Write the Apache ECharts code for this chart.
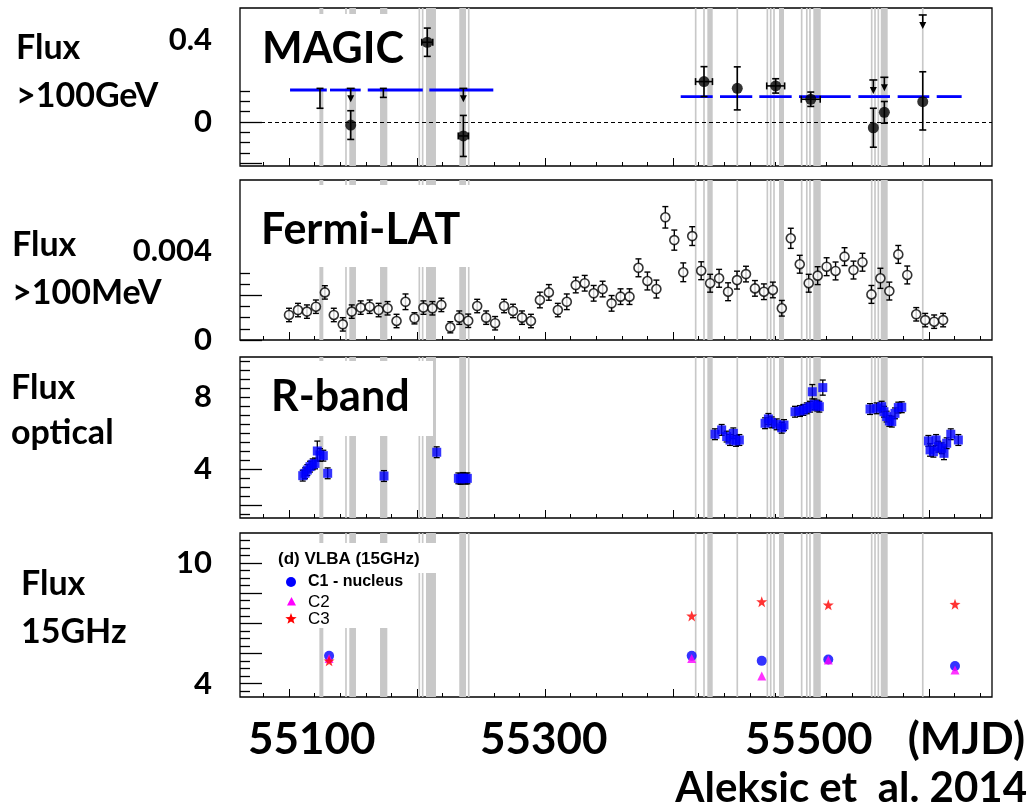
<!DOCTYPE html>
<html><head><meta charset="utf-8">
<script src="https://cdn.jsdelivr.net/npm/echarts@6/dist/echarts.min.js"></script>
<style>html,body{margin:0;padding:0;background:#fff}#c{width:1029px;height:807px}</style>
</head><body><div id="c"></div><script>
// ---------------- data ----------------
const xMajorTicks = [55100,55200,55300,55400,55500,55600];
const xMinorTicks = [55080,55100,55120,55140,55160,55180,55200,55220,55240,55260,55280,55300,55320,55340,55360,55380,55400,55420,55440,55460,55480,55500,55520,55540,55560,55580,55600,55620,55640];
const xTickLabels = ['55100','55300','55500'];

// grey MAGIC observation bands (MJD start, end) and thin lines (MJD)
const bandRanges = [[55123.7,55126.8],[55147.1,55152.3],[55171.1,55176.8],[55207,55214.8],[55233,55238.3],[55426.8,55431],[55482.8,55486.7],[55509.6,55515.4],[55562.3,55567.7]];
const bandLines = [55144.5,55201.8,55204.4,55240.4,55417.7,55424.2,55450.2,55473.7,55476.3,55478.9,55500.5,55504.5,55507,55555.2,55557.8,55560.4,55595.1];

// MAGIC >100 GeV
const magicMjd     = [55148.2,55208.0,55236.2,55424.2,55450.2,55480.2,55507.6,55556.5,55565.1,55595.1];
const magicFlux    = [-0.015,0.389,-0.068,0.197,0.164,0.176,0.111,-0.028,0.047,0.099];
const magicErrLow  = [0.07,0.069,0.10,0.073,0.105,0.035,0.035,0.095,0.053,0.138];
const magicErrHigh = [0.07,0.069,0.10,0.073,0.105,0.035,0.035,0.095,0.053,0.146];
const magicMjdErr  = [0,4.3,4,6.6,0,7,7.4,0,0,0];
const magicUlMjd   = [55148.2,55236.2,55556.5,55565.1,55595.1];
const magicUl      = [0.164,0.164,0.205,0.218,0.522];
const magicBarMjd  = [55124.2,55173.7];
const magicBarLow  = [0.067,0.12];
const magicBarHigh = [0.164,0.164];
const magicAvgLeft  = 0.156;
const magicAvgRight = 0.124;
const magicAvgLeftSegs  = [[55100.8,55129.5],[55132,55156],[55161.5,55204.5],[55209.6,55259.6]];
const magicAvgRightSegs = [[55406,55431],[55436.7,55461.9],[55467.4,55492.7],[55498.4,55538.8],[55544.8,55569.5],[55575.5,55600.2],[55606,55625.5]];
const magicMajorTicks = [-0.2,0];
const magicMinorTicks = [-0.15,-0.1,-0.05,0.05,0.1,0.15];
const magicLabels = [0,0.4];

// Fermi-LAT >100 MeV
const fermiMjd = [55100,55107,55114,55121,55128,55135,55142,55149,55156,55163,55170,55177,55184,55191,55198,55205,55212,55219,55226,55233,55240,55247,55254,55261,55268,55275,55282,55289,55296,55303,55310,55317,55324,55331,55338,55345,55352,55359,55366,55373,55380,55387,55394,55401,55408,55415,55422,55429,55436,55443,55450,55457,55464,55471,55478,55485,55492,55499,55506,55513,55520,55527,55534,55541,55548,55555,55562,55569,55576,55583,55590,55597,55604,55611];
const fermiFlux = [0.00112,0.00134,0.00127,0.00149,0.00213,0.00112,0.0007,0.00127,0.00145,0.00149,
  0.00134,0.00142,0.00085,0.00171,0.00097,0.00145,0.00142,0.00157,0.00057,0.001,
  0.00086,0.00152,0.001,0.00075,0.00152,0.0013,0.001,0.00085,0.00179,0.00213,
  0.00134,0.00171,0.00246,0.00254,0.00209,0.00228,0.00164,0.00194,0.00194,0.00323,
  0.00264,0.00228,0.00549,0.00447,0.00303,0.00465,0.0031,0.00254,0.00276,0.00216,
  0.00268,0.00295,0.00231,0.00216,0.00224,0.00142,0.00455,0.00339,0.00254,0.00288,
  0.00328,0.00309,0.00373,0.00313,0.00348,0.00204,0.00276,0.00219,0.00383,0.00291,
  0.00115,0.00089,0.00082,0.00089];
const fermiErr = [0.0003,0.0003,0.0003,0.0003,0.0003,0.0003,0.0003,0.0003,0.0003,0.0003,
  0.0003,0.0003,0.0003,0.00035,0.00025,0.0003,0.0003,0.0003,0.00025,0.0003,
  0.0003,0.0003,0.0003,0.0003,0.0003,0.0003,0.0003,0.0003,0.00035,0.00035,
  0.0003,0.00035,0.00035,0.00035,0.00035,0.00035,0.00035,0.00035,0.00035,0.0004,
  0.0004,0.0004,0.00048,0.00045,0.00042,0.00042,0.0004,0.0004,0.0004,0.0004,
  0.0004,0.00035,0.00035,0.00035,0.00035,0.00035,0.00045,0.0004,0.0004,0.0004,
  0.0004,0.0004,0.0004,0.0004,0.0004,0.0004,0.00045,0.0004,0.0004,0.0004,
  0.0003,0.0003,0.0003,0.0003];
const fermiMajorTicks = [0,0.002];
const fermiMinorTicks = [0.0005,0.001,0.0015,0.0025,0.003];
const fermiLabels = [0,0.004];

// R-band optical
const rMjd = [55110.7,55112.5,55114.3,55116.4,55118.5,55120.3,55122.1,55124.2,55126.8,55130.2,
  55174.2,55215.4,55232.3,55234,55236,55238,55239.3,
  55432.8,55438,55441.9,55444.5,55447.1,55449.2,55451.8,
  55471.9,55474.5,55477.1,55481,55484.9,55486.7,
  55495.3,55499.2,55501.8,55504.5,55507,55508.8,55510.4,55512.7,55514.3,55517,
  55553.9,55559.1,55563,55564.8,55566.9,55569,55570.9,55573.4,55576,55578.7,
  55599.5,55600.8,55603.4,55605.5,55607.3,55609.9,55611.7,55613.8,55617,55622.9];
const rFlux = [3.63,3.76,3.94,4.13,4.26,4.31,5.0,4.78,4.74,3.76,
  3.61,4.93,3.48,3.45,3.5,3.46,3.48,
  5.93,6.17,5.8,5.61,5.98,5.56,5.61,
  6.54,6.78,6.59,6.48,6.29,6.44,
  7.18,7.22,7.28,7.37,7.46,8.29,7.59,7.52,7.46,8.52,
  7.33,7.37,7.46,7.18,6.91,6.67,6.63,7.09,7.41,7.43,
  5.56,5.06,4.96,5.61,5.24,5.15,4.87,5.43,5.93,5.61];
const rErr = [0.3,0.3,0.3,0.3,0.3,0.3,0.55,0.35,0.3,0.3,
  0.3,0.3,0.3,0.3,0.3,0.3,0.3,
  0.3,0.3,0.3,0.3,0.3,0.3,0.3,
  0.3,0.3,0.3,0.3,0.3,0.3,
  0.3,0.3,0.3,0.3,0.3,0.4,0.3,0.3,0.3,0.42,
  0.3,0.3,0.3,0.3,0.3,0.3,0.3,0.3,0.3,0.3,
  0.3,0.35,0.3,0.3,0.3,0.3,0.35,0.3,0.3,0.3];
const rMajorTicks = [2,4];
const rMinorTicks = [1.5,2.5,3,3.5,4.5,5,5.5,6,6.5,7,7.5,8,8.5,9,9.5,10];
const rLabels = [4,8];

// VLBA 15 GHz
const vlbaMjd = [55131.3,55414.6,55469.3,55521.3,55620.3];
const vlbaC1  = [5.38,5.38,5.13,5.20,4.87];
const vlbaC2  = [5.25,5.25,4.38,5.17,4.67];
const vlbaC3  = [5.13,7.37,8.08,7.92,7.95];
const vlbaMajorTicks = [4,5.5,7,8.5,10];
const vlbaMinorTicks = [3.625,4.375,4.75,5.125,5.875,6.25,6.625,7.375,7.75,8.125,8.875,9.25,9.625,10.375,10.75,11.125];
const vlbaLabels = [4,10];
const legendNames = ['C1 - nucleus','C2','C3'];

// ---------------- layout ----------------
const X_MIN = 55061.7, X_MAX = 55649.2;
const LEFT = 240, WIDTH = 752;
const panels = [
  {top:8,   height:158, min:-0.2146, max:0.556, major:magicMajorTicks, minor:magicMinorTicks, labels:magicLabels},
  {top:180, height:160, min:0,       max:0.00716, major:fermiMajorTicks, minor:fermiMinorTicks, labels:fermiLabels},
  {top:357, height:161, min:1.278,   max:10.22, major:rMajorTicks, minor:rMinorTicks, labels:rLabels},
  {top:533, height:164, min:3.33,    max:11.5, major:vlbaMajorTicks, minor:vlbaMinorTicks, labels:vlbaLabels}
];
const FONT = 'Lato';

const grid = [], xAxis = [], yAxis = [], series = [];
panels.forEach((p, gi) => {
  grid.push({left:LEFT, top:p.top, width:WIDTH, height:p.height, show:true, borderColor:'#000', borderWidth:1.3, backgroundColor:'rgba(0,0,0,0)', containLabel:false});
  [[xMajorTicks,8],[xMinorTicks,4]].forEach(([vals,len]) => {
    xAxis.push({type:'value', gridIndex:gi, position:'bottom', offset:0, min:X_MIN, max:X_MAX,
      axisLine:{show:false, onZero:false}, splitLine:{show:false}, axisLabel:{show:false},
      axisTick:{show:true, inside:true, length:len, customValues:vals, lineStyle:{color:'#000', width:1}}});
  });
  yAxis.push({type:'value', gridIndex:gi, position:'left', offset:0, min:p.min, max:p.max,
    axisLine:{show:false, onZero:false}, splitLine:{show:false},
    axisTick:{show:true, inside:true, length:22, customValues:p.major, lineStyle:{color:'#000', width:1.3}},
    axisLabel:{show:true, customValues:p.labels, margin:28, fontSize:31, fontWeight:'bold', fontFamily:FONT, color:'#000', formatter:v => String(v)}});
  yAxis.push({type:'value', gridIndex:gi, position:'left', offset:0, min:p.min, max:p.max,
    axisLine:{show:false, onZero:false}, splitLine:{show:false}, axisLabel:{show:false},
    axisTick:{show:true, inside:true, length:10, customValues:p.minor, lineStyle:{color:'#000', width:1.3}}});

  // grey bands
  const bandData = bandRanges.map(b => [b[0], b[1]]).concat(bandLines.map(m => [m - 0.65, m + 0.65]));
  series.push({type:'custom', xAxisIndex:gi*2, yAxisIndex:gi*2, z:1, silent:true, data:bandData,
    renderItem:(params, api) => {
      const cs = params.coordSys;
      const a = api.coord([api.value(0), p.min])[0], b = api.coord([api.value(1), p.min])[0];
      return {type:'rect', shape:{x:a, y:cs.y, width:Math.max(b - a, 1), height:cs.height}, style:{fill:'#c8c8c8'}};
    }});
});

function errRender(capW, color, lw) {
  return function (params, api) {
    const x = api.value(0), y = api.value(1), lo = api.value(2), hi = api.value(3), xlo = api.value(4), xhi = api.value(5);
    const style = {stroke:color, lineWidth:lw};
    const ch = [];
    if (hi > lo) {
      const pl = api.coord([x, lo]), ph = api.coord([x, hi]);
      ch.push({type:'line', shape:{x1:pl[0], y1:pl[1], x2:ph[0], y2:ph[1]}, style});
      ch.push({type:'line', shape:{x1:pl[0]-capW, y1:pl[1], x2:pl[0]+capW, y2:pl[1]}, style});
      ch.push({type:'line', shape:{x1:ph[0]-capW, y1:ph[1], x2:ph[0]+capW, y2:ph[1]}, style});
    }
    if (xhi > xlo) {
      const a = api.coord([xlo, y]), b = api.coord([xhi, y]);
      ch.push({type:'line', shape:{x1:a[0], y1:a[1], x2:b[0], y2:b[1]}, style});
      ch.push({type:'line', shape:{x1:a[0], y1:a[1]-capW, x2:a[0], y2:a[1]+capW}, style});
      ch.push({type:'line', shape:{x1:b[0], y1:b[1]-capW, x2:b[0], y2:b[1]+capW}, style});
    }
    return {type:'group', children:ch};
  };
}

// ---- MAGIC ----
series.push({type:'custom', xAxisIndex:0, yAxisIndex:0, z:4, silent:true,
  data: magicAvgLeftSegs.map(s => [s[0], s[1], magicAvgLeft]).concat(magicAvgRightSegs.map(s => [s[0], s[1], magicAvgRight])),
  renderItem:(params, api) => {
    const a = api.coord([api.value(0), api.value(2)]), b = api.coord([api.value(1), api.value(2)]);
    return {type:'line', shape:{x1:a[0], y1:a[1], x2:b[0], y2:b[1]}, style:{stroke:'#0000ff', lineWidth:2.8}};
  },
  markLine:{silent:true, symbol:['none','none'], label:{show:false}, z:3,
    lineStyle:{color:'#000', type:[4,3], width:1}, data:[{yAxis:0}]}
});
series.push({type:'custom', xAxisIndex:0, yAxisIndex:0, z:5, silent:true,
  data: magicMjd.map((m, i) => [m, magicFlux[i], magicFlux[i] - magicErrLow[i], magicFlux[i] + magicErrHigh[i], m - magicMjdErr[i], m + magicMjdErr[i]])
    .concat(magicBarMjd.map((m, i) => [m, magicBarLow[i], magicBarLow[i], magicBarHigh[i], m, m])),
  renderItem: errRender(3.5, '#000', 1.6)});
series.push({type:'custom', xAxisIndex:0, yAxisIndex:0, z:5, silent:true,
  data: magicUlMjd.map((m, i) => [m, magicUl[i]]),
  renderItem:(params, api) => {
    const p = api.coord([api.value(0), api.value(1)]);
    const st = {stroke:'#000', lineWidth:1.6};
    return {type:'group', children:[
      {type:'line', shape:{x1:p[0]-4, y1:p[1], x2:p[0]+4, y2:p[1]}, style:st},
      {type:'line', shape:{x1:p[0], y1:p[1], x2:p[0], y2:p[1]+9}, style:st},
      {type:'polygon', shape:{points:[[p[0]-3.5, p[1]+7], [p[0]+3.5, p[1]+7], [p[0], p[1]+14]]}, style:{fill:'#000'}}
    ]};
  }});
series.push({type:'scatter', xAxisIndex:0, yAxisIndex:0, z:6, silent:true, symbol:'circle', symbolSize:11,
  itemStyle:{color:'#000'}, data: magicMjd.map((m, i) => [m, magicFlux[i]])});

// ---- Fermi ----
series.push({type:'custom', xAxisIndex:2, yAxisIndex:2, z:5, silent:true,
  data: fermiMjd.map((m, i) => [m, fermiFlux[i], fermiFlux[i] - fermiErr[i], fermiFlux[i] + fermiErr[i], m, m]),
  renderItem: errRender(3, '#000', 1.4)});
series.push({type:'scatter', xAxisIndex:2, yAxisIndex:2, z:6, silent:true, symbol:'circle', symbolSize:9,
  itemStyle:{color:'#fff', borderColor:'#000', borderWidth:1.6}, data: fermiMjd.map((m, i) => [m, fermiFlux[i]])});

// ---- R-band ----
series.push({type:'custom', xAxisIndex:4, yAxisIndex:4, z:5, silent:true,
  data: rMjd.map((m, i) => [m, rFlux[i], rFlux[i] - rErr[i], rFlux[i] + rErr[i], m, m]),
  renderItem: errRender(3, '#000', 1.3)});
series.push({type:'scatter', xAxisIndex:4, yAxisIndex:4, z:6, silent:true, symbol:'rect', symbolSize:9,
  itemStyle:{color:'#0000ff'}, data: rMjd.map((m, i) => [m, rFlux[i]])});

// ---- VLBA ----
const STAR = 'path://M0,-10L2.35,-3.24L9.51,-3.09L3.8,1.24L5.88,8.09L0,4L-5.88,8.09L-3.8,1.24L-9.51,-3.09L-2.35,-3.24Z';
series.push({type:'scatter', name:legendNames[0], xAxisIndex:6, yAxisIndex:6, z:6, silent:true, symbol:'circle', symbolSize:10,
  itemStyle:{color:'#0000ff'}, data: vlbaMjd.map((m, i) => [m, vlbaC1[i]])});
series.push({type:'scatter', name:legendNames[1], xAxisIndex:6, yAxisIndex:6, z:7, silent:true, symbol:'triangle', symbolSize:9,
  itemStyle:{color:'#ff00ff'}, data: vlbaMjd.map((m, i) => [m, vlbaC2[i]])});
series.push({type:'scatter', name:legendNames[2], xAxisIndex:6, yAxisIndex:6, z:8, silent:true, symbol:STAR, symbolSize:11,
  itemStyle:{color:'#ff0000'}, data: vlbaMjd.map((m, i) => [m, vlbaC3[i]])});

// ---------------- overlay text ----------------
function txt(text, x, y, size, opts) {
  return Object.assign({type:'text', z:20, silent:true, x:x, y:y,
    style:{text:text, font:'bold ' + size + 'px ' + FONT, fill:'#000', textAlign:'left', textVerticalAlign:'middle'}}, opts || {});
}
function whiteBox(x, y, w, h) {
  return {type:'rect', z:3, silent:true, shape:{x:x, y:y, width:w, height:h}, style:{fill:'#fff'}};
}
function starPts(cx, cy, R, r) {
  const pts = [];
  for (let k = 0; k < 10; k++) {
    const ang = -Math.PI / 2 + k * Math.PI / 5;
    const rad = k % 2 === 0 ? R : r;
    pts.push([cx + rad * Math.cos(ang), cy + rad * Math.sin(ang)]);
  }
  return pts;
}
const LFONT = 'Liberation Sans';
const graphic = [
  whiteBox(252, 14, 160, 74),
  whiteBox(252, 185, 226, 82),
  whiteBox(252, 361, 181, 75),
  whiteBox(265, 543, 150, 85),
  whiteBox(265, 543, 175, 30),
  txt('MAGIC', 262, 49, 43),
  txt('Fermi-LAT', 261, 230, 43),
  txt('R-band', 271, 397, 43),
  txt('Flux', 16, 48, 34), txt('>100GeV', 16, 96, 34),
  txt('Flux', 12, 245, 34), txt('>100MeV', 12, 293, 34),
  txt('Flux', 11, 388, 34), txt('optical', 11, 433, 34),
  txt('Flux', 21, 584, 34), txt('15GHz', 21, 632, 34),
  txt(xTickLabels[0], 248, 740, 44),
  txt(xTickLabels[1], 480, 740, 44),
  txt(xTickLabels[2], 745, 740, 44),
  {type:'text', z:20, silent:true, x:1025, y:740, style:{text:'(MJD)', font:'bold 44px ' + FONT, fill:'#000', textAlign:'right', textVerticalAlign:'middle'}},
  {type:'text', z:20, silent:true, x:1027, y:788, style:{text:'Aleksic et  al. 2014', font:'bold 42px ' + FONT, fill:'#000', textAlign:'right', textVerticalAlign:'middle'}},
  // VLBA legend
  {type:'text', z:20, silent:true, x:278, y:559, style:{text:'(d) VLBA (15GHz)', font:'bold 17px ' + LFONT, fill:'#000', textVerticalAlign:'middle'}},
  {type:'circle', z:20, silent:true, shape:{cx:291, cy:582, r:5}, style:{fill:'#0000ff'}},
  {type:'text', z:20, silent:true, x:308, y:582, style:{text:legendNames[0], font:'bold 16px ' + LFONT, fill:'#000', textVerticalAlign:'middle'}},
  {type:'polygon', z:20, silent:true, shape:{points:[[291.5, 597], [287, 605.5], [296, 605.5]]}, style:{fill:'#ff00ff'}},
  {type:'text', z:20, silent:true, x:308, y:602, style:{text:legendNames[1], font:'17px ' + LFONT, fill:'#000', textVerticalAlign:'middle'}},
  {type:'polygon', z:20, silent:true, shape:{points:starPts(291, 619, 6, 2.5)}, style:{fill:'#ff0000'}},
  {type:'text', z:20, silent:true, x:308, y:619, style:{text:legendNames[2], font:'17px ' + LFONT, fill:'#000', textVerticalAlign:'middle'}}
];

const chart = echarts.init(document.getElementById('c'), null, {renderer:'canvas'});
chart.setOption({
  animation:false,
  backgroundColor:'#fff',
  textStyle:{fontFamily:FONT},
  grid, xAxis, yAxis, series, graphic
});
</script></body></html>
